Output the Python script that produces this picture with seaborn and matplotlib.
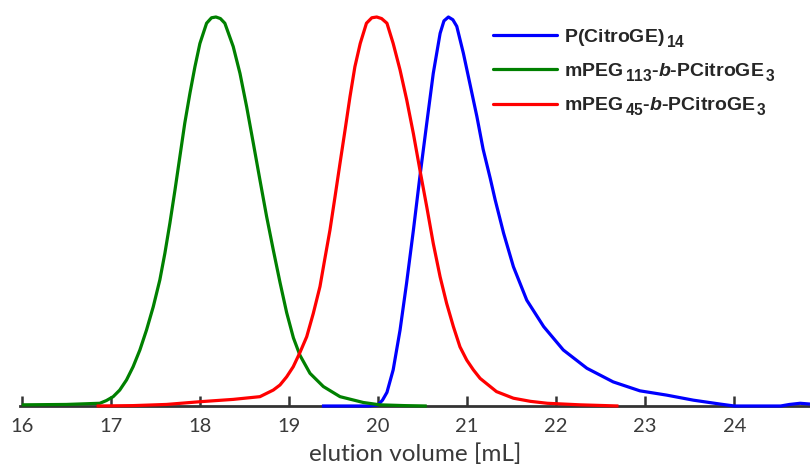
import numpy as np
import pandas as pd
import matplotlib
matplotlib.use("Agg")
import matplotlib.pyplot as plt
import seaborn as sns
from matplotlib.lines import Line2D
import matplotlib._mathtext as _mt

# ---- data ----
blue_x = [19.37, 19.9, 20.0, 20.05, 20.10, 20.17, 20.247, 20.32, 20.397, 20.47, 20.547, 20.62, 20.697,
          20.74, 20.79, 20.84, 20.884, 20.958, 21.03, 21.11, 21.18, 21.26, 21.315, 21.41, 21.52, 21.67,
          21.86, 22.08, 22.345, 22.64, 22.94, 23.24, 23.54, 23.84, 24.0, 24.52, 24.62, 24.74, 24.85]
blue_y = [0.0, 0.0, 0.003, 0.015, 0.035, 0.093, 0.195, 0.315, 0.452, 0.59, 0.727, 0.855, 0.958,
          0.99, 1.0, 0.993, 0.976, 0.907, 0.83, 0.744, 0.66, 0.585, 0.53, 0.444, 0.358, 0.272,
          0.204, 0.144, 0.097, 0.062, 0.039, 0.028, 0.015, 0.005, 0.0, 0.0, 0.004, 0.007, 0.005]

green_x = [16.0, 16.5, 16.876, 16.95, 17.026, 17.10, 17.176, 17.25, 17.326, 17.40, 17.476, 17.55,
           17.607, 17.663, 17.72, 17.775, 17.83, 17.888, 17.944, 18.0, 18.075, 18.13, 18.18, 18.23,
           18.28, 18.374, 18.45, 18.525, 18.60, 18.674, 18.749, 18.824, 18.899, 18.974, 19.05,
           19.124, 19.236, 19.386, 19.573, 19.835, 20.02, 20.3, 20.547]
green_y = [0.003, 0.004, 0.007, 0.014, 0.024, 0.041, 0.067, 0.101, 0.144, 0.195, 0.255, 0.324,
           0.393, 0.47, 0.555, 0.641, 0.727, 0.804, 0.872, 0.932, 0.984, 0.998, 1.0, 0.996,
           0.984, 0.924, 0.855, 0.769, 0.675, 0.581, 0.487, 0.401, 0.318, 0.24, 0.175,
           0.13, 0.084, 0.05, 0.024, 0.009, 0.003, 0.001, 0.0]

red_x = [16.84, 17.25, 17.625, 18.0, 18.374, 18.674, 18.824, 18.899, 18.974, 19.048, 19.124, 19.199,
         19.273, 19.348, 19.40, 19.46, 19.517, 19.573, 19.63, 19.685, 19.74, 19.80, 19.87, 19.93,
         19.985, 20.04, 20.10, 20.17, 20.247, 20.322, 20.397, 20.47, 20.547, 20.62, 20.697, 20.77,
         20.846, 20.92, 20.996, 21.07, 21.146, 21.33, 21.52, 21.71, 21.9, 22.27, 22.70]
red_y = [0.0, 0.001, 0.004, 0.011, 0.017, 0.024, 0.041, 0.054, 0.075, 0.101, 0.138, 0.178,
         0.238, 0.307, 0.375, 0.452, 0.538, 0.624, 0.71, 0.795, 0.872, 0.932, 0.984, 0.998,
         1.0, 0.996, 0.984, 0.932, 0.864, 0.787, 0.70, 0.607, 0.512, 0.418, 0.332, 0.264,
         0.204, 0.152, 0.118, 0.093, 0.071, 0.037, 0.02, 0.012, 0.007, 0.003, 0.0]

labels = [r"P(CitroGE)$_{\,14}$",
          r"mPEG$_{\,113}$-$\mathit{b}$-PCitroGE$_{\,3}$",
          r"mPEG$_{\,45}$-$\mathit{b}$-PCitroGE$_{\,3}$"]
colors = ["#0000ff", "#008000", "#ff0000"]
xticks = [16, 17, 18, 19, 20, 21, 22, 23, 24]
xlabel = "elution volume [mL]"

# ---- build frame ----
frames = []
for lab, xs, ys in zip(labels, [blue_x, green_x, red_x], [blue_y, green_y, red_y]):
    frames.append(pd.DataFrame({"x": xs, "y": ys, "s": lab}))
df = pd.concat(frames, ignore_index=True)

sns.set_theme(style="white")
plt.rcParams["mathtext.fontset"] = "custom"
plt.rcParams["mathtext.rm"] = "Liberation Sans:bold"
plt.rcParams["mathtext.it"] = "Liberation Sans:bold:italic"
plt.rcParams["mathtext.bf"] = "Liberation Sans:bold"
# slightly larger and lower subscripts, as in the reference
try:
    _mt.SHRINK_FACTOR = 0.8
    _mt.FontConstantsBase.sub1 = 0.55
except Exception:
    pass

fig = plt.figure(figsize=(8.10, 4.66), dpi=100)
H = 466.0
ax = fig.add_axes([20 / 810, (H - 406) / H, 790 / 810, (406 - 17) / H])

sns.lineplot(data=df, x="x", y="y", hue="s", palette=dict(zip(labels, colors)),
             hue_order=labels, sort=False, estimator=None, linewidth=2.3, ax=ax, legend=False)
for ln in ax.get_lines():
    ln.set_clip_on(False)
    ln.set_zorder(3)
    ln.set_solid_capstyle("butt")
    ln.set_solid_joinstyle("round")

ax.set_xlim(15.98, 24.85)
ax.set_ylim(0, 1)
for s in ["top", "left", "right"]:
    ax.spines[s].set_visible(False)
ax.spines["bottom"].set_color("#333333")
ax.spines["bottom"].set_linewidth(2.0)
ax.set_yticks([])
ax.set_xticks(xticks)
ax.set_xticklabels([str(t) for t in xticks])
ax.tick_params(axis="x", bottom=True, direction="in", length=7, width=1.8, color="#333333",
               labelsize=14.5, labelcolor="#3a3a3a", pad=9)
for t in ax.get_xticklabels():
    t.set_family("Lato")
ax.set_xlabel(xlabel, fontsize=17.5, color="#3a3a3a", family="Lato", labelpad=6)
ax.set_ylabel("")

handles = [Line2D([], [], color=c, lw=2.3) for c in colors]
leg = fig.legend(handles, labels, loc="upper left", bbox_to_anchor=(493 / 810, 1 - 27 / H),
                 frameon=False, borderpad=0, borderaxespad=0, handlelength=3.3, handletextpad=0.35,
                 labelspacing=0.6, prop={"family": "Liberation Sans", "weight": "bold", "size": 14})

fig.savefig("out.png", dpi=100, facecolor="white")
